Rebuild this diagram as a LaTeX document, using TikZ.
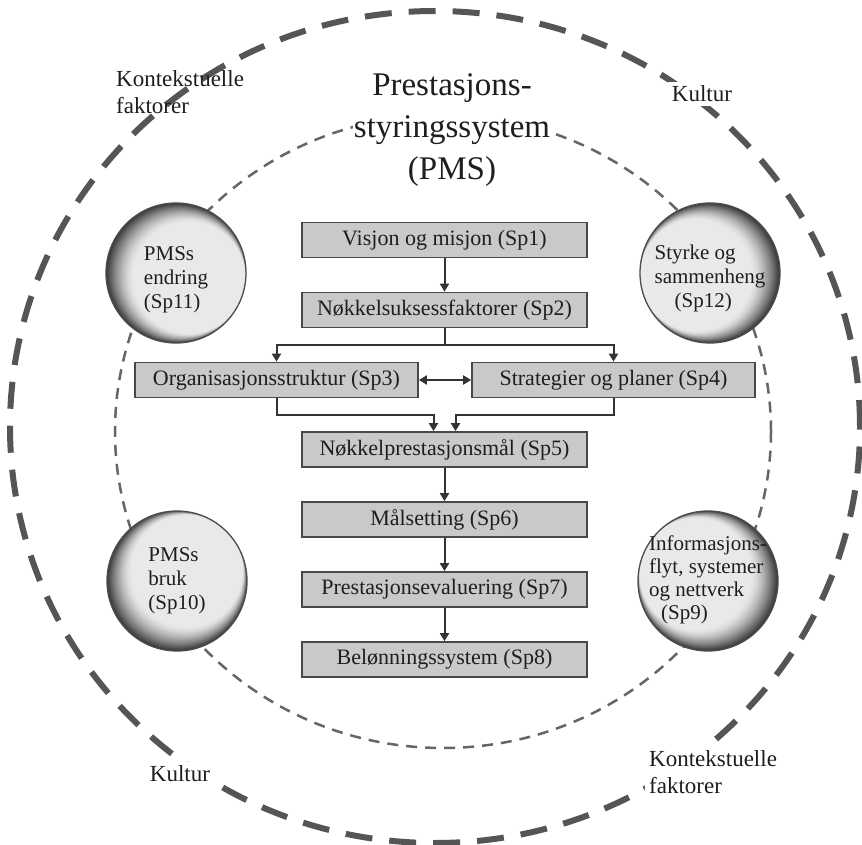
\documentclass[tikz,border=0pt]{standalone}
\usepackage{fontspec}
\setmainfont{Liberation Serif}
\usetikzlibrary{arrows.meta}
\definecolor{outerc}{HTML}{555555}
\definecolor{innerc}{HTML}{666666}
\definecolor{boxfill}{HTML}{C9C9C9}
\definecolor{boxline}{HTML}{484848}
\definecolor{arrc}{HTML}{333333}
\definecolor{txt}{HTML}{1E1E1E}
\definecolor{sphl}{HTML}{E9E9E9}
\colorlet{sphd}{black!78}
\newcommand{\spht}[2]{\raisebox{#1}[0pt][0pt]{\begin{tabular}{@{}l@{}}#2\end{tabular}}}
% shaded sphere background: x, y, direction of the light side
\newcommand{\sphbg}[3]{%
  \begin{scope}
    \clip (#1,#2) circle[radius=70pt];
    \fill[sphd] (#1,#2) circle[radius=70pt];
    \foreach \i in {1,...,28} {
      \pgfmathsetmacro{\rr}{70-14*\i/28}
      \pgfmathsetmacro{\dd}{14*\i/28}
      \pgfmathtruncatemacro{\cc}{100*(1-(1-\i/28)^1.5)}
      \fill[sphl!\cc!sphd] (#1,#2) ++(#3:\dd pt) circle[radius=\rr pt];
    }
  \end{scope}}
\begin{document}
\begin{tikzpicture}[x=1pt,y=-1pt,
  outerdash/.style={draw=outerc, line width=6pt, dash pattern=on 27pt off 17pt},
  innerdash/.style={draw=innerc, line width=2.5pt, dash pattern=on 11pt off 8pt},
  boxn/.style={draw=boxline, line width=1.7pt, fill=boxfill, minimum width=285pt, minimum height=35pt, inner sep=0pt, font=\fontsize{22}{26}\selectfont, text=txt},
  arr/.style={draw=arrc, line width=2pt, -{Triangle[width=9pt,length=8pt]}},
  arrtwo/.style={draw=arrc, line width=2pt, {Triangle[width=9pt,length=8pt]}-{Triangle[width=9pt,length=8pt]}},
  sph/.style={circle, draw=black!70, line width=1.3pt, minimum size=140pt, inner sep=0pt, font=\fontsize{21}{24}\selectfont, text=txt},
  lab/.style={font=\fontsize{23}{27}\selectfont, align=left, text=txt, inner sep=0pt},
  labw/.style={lab, fill=white, inner sep=4pt},
  titlen/.style={font=\fontsize{33}{42}\selectfont, align=center, text=txt, fill=white, inner sep=1pt}
]
\fill[white] (0,0) rectangle (862,845);
\useasboundingbox (0,0) rectangle (862,845);

% circles of context
\draw[outerdash] (435,427) ellipse [x radius=425pt, y radius=416pt];
\draw[innerdash] (443,431.5) ellipse [x radius=328pt, y radius=316.5pt];

% labels
\node[lab, anchor=north west] (kf1) at (116,70) {Kontekstuelle\\faktorer};
\node[labw] (ku1) at (702,94) {Kultur};
\node[labw] (ku2) at (180,774) {Kultur};
\node[labw, anchor=north west] (kf2) at (645,746) {Kontekstuelle\\faktorer};

% title
\node[titlen] (pms) at (452,130) {Prestasjons-\\styringssystem\\(PMS)};

% boxes
\node[boxn] (sp1) at (444.5,240) {Visjon og misjon (Sp1)};
\node[boxn] (sp2) at (444.5,310) {Nøkkelsuksessfaktorer (Sp2)};
\node[boxn, minimum width=283pt] (sp3) at (276.5,380) {Organisasjonsstruktur (Sp3)};
\node[boxn, minimum width=283pt] (sp4) at (613.5,380) {Strategier og planer (Sp4)};
\node[boxn] (sp5) at (444.5,449.5) {Nøkkelprestasjonsmål (Sp5)};
\node[boxn] (sp6) at (444.5,519.5) {Målsetting (Sp6)};
\node[boxn] (sp7) at (444.5,589.5) {Prestasjonsevaluering (Sp7)};
\node[boxn] (sp8) at (444.5,659.5) {Belønningssystem (Sp8)};

% connectors
\draw[arr] (sp1) -- (sp2);
\draw[arr] (sp2.south) -- ++(0,17) -| (sp3.north);
\draw[arr] (sp2.south) -- ++(0,17) -| (sp4.north);
\draw[arrtwo] (sp3.east) -- (sp4.west);
\draw[arr] (sp3.south) -- ++(0,17) -| ([xshift=-11pt]sp5.north);
\draw[arr] (sp4.south) -- ++(0,17) -| ([xshift=11pt]sp5.north);
\draw[arr] (sp5) -- (sp6);
\draw[arr] (sp6) -- (sp7);
\draw[arr] (sp7) -- (sp8);

% spheres
\sphbg{176}{273}{-20}
\sphbg{710}{273}{190}
\sphbg{177}{581}{45}
\sphbg{708}{581}{150}
\node[sph] (c11) at (176,273) {\spht{-12pt}{PMSs\\endring\\(Sp11)}};
\node[sph] (c12) at (710,273) {\spht{-11pt}{Styrke og\\sammenheng\\\hspace*{20pt}(Sp12)}};
\node[sph] (c10) at (177,581) {\spht{-5pt}{PMSs\\bruk\\(Sp10)}};
\node[sph, font=\fontsize{21}{23}\selectfont] (c9) at (708,581) {\spht{-5pt}{Informasjons-\\flyt, systemer\\og nettverk\\\hspace*{12pt}(Sp9)}};
\end{tikzpicture}
\end{document}
